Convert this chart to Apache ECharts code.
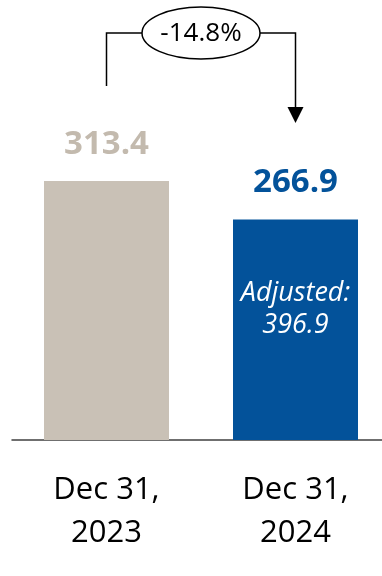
<!DOCTYPE html>
<html>
<head>
<meta charset="utf-8">
<script src="https://cdn.jsdelivr.net/npm/echarts@6/dist/echarts.min.js"></script>
<style>
  html, body { margin: 0; padding: 0; background: #fff; }
  #main { width: 382px; height: 576px; }
</style>
</head>
<body>
<div id="main"></div>
<script>
// 数据
var categories = ['Dec 31,\n2023', 'Dec 31,\n2024'];
var values = [313.4, 266.9];
var barColors = ['#C9C1B6', '#03529A'];
var labelColors = ['#C3BAAE', '#03529A'];
var adjustedValue = 396.9;

var chart = echarts.init(document.getElementById('main'));
var font = '"Open Sans", sans-serif';

var option = {
    animation: false,
    grid: { left: 12, width: 378, top: 109.4, bottom: 136, outerBoundsMode: 'none' },
    xAxis: {
        type: 'category',
        data: categories,
        axisTick: { show: false },
        axisLine: { lineStyle: { color: '#404040', width: 1.5 } },
        axisLabel: {
            color: '#000', fontSize: 31, lineHeight: 43,
            fontFamily: font, margin: 29
        }
    },
    yAxis: {
        type: 'value', min: 0, max: 400,
        show: false, splitLine: { show: false }
    },
    series: [{
        type: 'bar',
        barWidth: 125,
        data: values.map(function (v, i) {
            return {
                value: v,
                itemStyle: { color: barColors[i] },
                label: { color: labelColors[i] }
            };
        }),
        label: {
            show: true, position: 'top', distance: 20,
            fontSize: 33, fontWeight: 'bold', fontFamily: font,
            formatter: function (p) { return p.value.toFixed(1); }
        },
        markPoint: {
            symbolSize: 0,
            data: [{
                coord: [1, 158],
                label: {
                    show: true, position: 'inside',
                    formatter: 'Adjusted:\n' + adjustedValue.toFixed(1),
                    color: '#fff', fontStyle: 'italic',
                    fontSize: 27, lineHeight: 32, fontFamily: font
                }
            }]
        }
    }]
};
chart.setOption(option);

// 变化幅度标注
var p1 = chart.convertToPixel({ seriesIndex: 0 }, [0, values[0]]);
var p2 = chart.convertToPixel({ seriesIndex: 0 }, [1, values[1]]);
var change = ((values[1] / values[0]) - 1) * 100;
var yTop = 33, cx = 201, rx = 59, ry = 26;
var line = { stroke: '#000', lineWidth: 1.5 };

chart.setOption({
    graphic: [
        { type: 'polyline', shape: { points: [[p1[0], 86], [p1[0], yTop], [cx - rx, yTop]] }, style: line },
        { type: 'polyline', shape: { points: [[cx + rx, yTop], [p2[0], yTop], [p2[0], 110]] }, style: line },
        { type: 'polygon', shape: { points: [[p2[0] - 8, 107], [p2[0] + 8, 107], [p2[0], 123]] }, style: { fill: '#000' } },
        { type: 'ellipse', shape: { cx: cx, cy: yTop, rx: rx, ry: ry }, style: { fill: '#fff', stroke: '#000', lineWidth: 1.5 } },
        {
            type: 'text',
            style: {
                text: change.toFixed(1) + '%', x: cx, y: yTop + 1,
                align: 'center', verticalAlign: 'middle',
                fill: '#000', font: '26px "Open Sans", sans-serif'
            }
        }
    ]
});
</script>
</body>
</html>
